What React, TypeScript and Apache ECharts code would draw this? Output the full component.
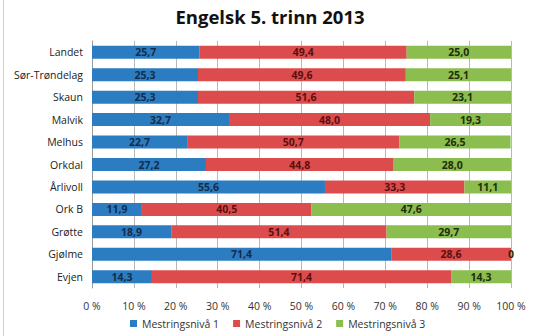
import React, { useEffect, useRef } from "react";
import * as echarts from "echarts";

const categories = ["Landet", "Sør-Trøndelag", "Skaun", "Malvik", "Melhus", "Orkdal", "Årlivoll", "Ork B", "Grøtte", "Gjølme", "Evjen"];
const level1 = [25.7, 25.3, 25.3, 32.7, 22.7, 27.2, 55.6, 11.9, 18.9, 71.4, 14.3];
const level2 = [49.4, 49.6, 51.6, 48.0, 50.7, 44.8, 33.3, 40.5, 51.4, 28.6, 71.4];
const level3 = [25.0, 25.1, 23.1, 19.3, 26.5, 28.0, 11.1, 47.6, 29.7, 0, 14.3];
const seriesNames = ["Mestringsnivå 1", "Mestringsnivå 2", "Mestringsnivå 3"];
const titleText = "Engelsk 5. trinn 2013";

const colors = ["#2b7cc1", "#dd4c4c", "#8cbd4f"];
const labelColors = ["#152c4a", "#5a1010", "#1f2e0c"];

const fmt = (v: number) => (v === 0 ? "0" : v.toFixed(1).replace(".", ","));

export default function App() {
  const ref = useRef<HTMLDivElement>(null);
  useEffect(() => {
    if (!ref.current) return;
    const chart = echarts.init(ref.current, null, { renderer: "svg" });
    const font = "Open Sans";
    const data = [level1, level2, level3];
    chart.setOption({
      animation: false,
      backgroundColor: "transparent",
      title: {
        text: titleText,
        left: 265,
        top: 2,
        textAlign: "center",
        textStyle: { fontFamily: font, fontSize: 18.5, fontWeight: "bold", color: "#111" },
      },
      grid: { left: 92, right: 23, top: 41, bottom: 48, containLabel: false },
      xAxis: {
        type: "value",
        min: 0,
        max: 100,
        interval: 10,
        axisLine: { show: false },
        axisTick: { show: false },
        splitLine: { show: true, lineStyle: { color: "#b8b8b8", width: 1 } },
        axisLabel: {
          formatter: (v: number) => `${v} %`,
          fontFamily: font,
          fontSize: 10.5,
          color: "#333",
          margin: 12,
        },
      },
      yAxis: {
        type: "category",
        data: categories,
        inverse: true,
        axisLine: { show: true, lineStyle: { color: "#9a9a9a" } },
        axisTick: { show: false },
        axisLabel: { fontFamily: font, fontSize: 10.5, color: "#222", margin: 9 },
      },
      legend: {
        bottom: 2,
        left: 125,
        itemWidth: 7,
        itemHeight: 7,
        itemGap: 14,
        icon: "rect",
        textStyle: { fontFamily: font, fontSize: 10.5, color: "#333" },
        data: seriesNames,
      },
      series: seriesNames.map((name, i) => ({
        name,
        type: "bar",
        stack: "total",
        barWidth: 13,
        data: data[i],
        itemStyle: { color: colors[i] },
        label: {
          show: true,
          position: "inside",
          formatter: (p: any) => fmt(p.value),
          fontFamily: font,
          fontSize: 10.5,
          fontWeight: "bold",
          color: labelColors[i],
        },
      })),
    });
    return () => chart.dispose();
  }, []);
  return (
    <div style={{ position: "fixed", left: 0, top: 0, width: 534, height: 336, background: "#fff" }}>
      <div ref={ref} style={{ position: "absolute", left: 0, top: 0, width: 534, height: 336 }} />
      <div style={{ position: "absolute", left: 3, top: 0, width: 1, height: 336, background: "#d0d0d0" }} />
    </div>
  );
}
